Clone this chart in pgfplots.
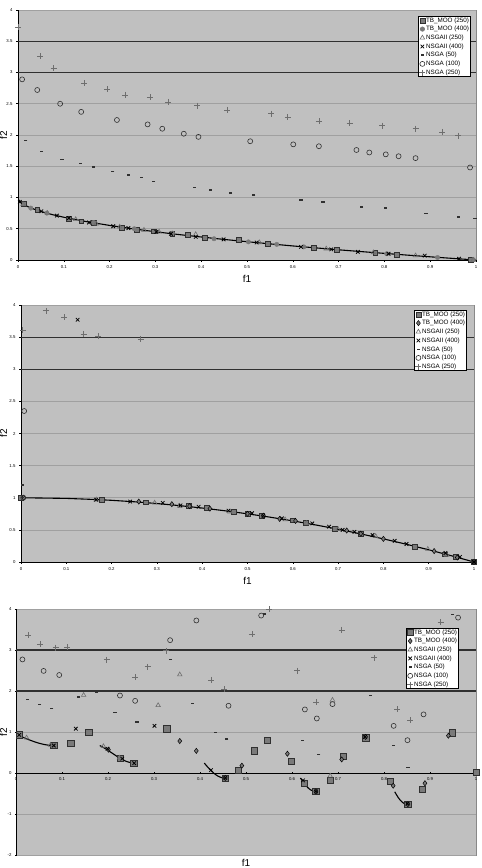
\documentclass[border=0pt]{standalone}
\usepackage{pgfplots}
\pgfplotsset{compat=1.18}
\usepackage{fontspec}
\setmainfont{Liberation Sans}
\definecolor{bgc}{HTML}{C0C0C0}
\definecolor{gridc}{HTML}{A0A0A0}
\definecolor{darkl}{HTML}{303030}
\definecolor{framec}{HTML}{888888}
\definecolor{mgray}{HTML}{7A7A7A}
\definecolor{dgray}{HTML}{303030}
\definecolor{pgray}{HTML}{6E6E6E}
\pgfplotsset{
  excel/.style={
    scale only axis, xmin=0, xmax=1,
    /pgf/number format/assume math mode=true,
    tick label style={font=\fontsize{4.3}{5}\selectfont},
    xtick={0,0.1,...,1.0},
    xticklabel style={/pgf/number format/fixed},
    yticklabel style={/pgf/number format/fixed},
    axis background/.style={fill=bgc, draw=framec, line width=0.6pt},
    axis line style={-, black, line width=0.6pt},
    every non boxed x axis/.append style={x axis line style={-}},
    every non boxed y axis/.append style={y axis line style={-}},
    tick align=outside, major tick length=2pt, tick style={black, line width=0.5pt},
    ymajorgrids, major grid style={draw=gridc, line width=0.5pt},
    xlabel={f1}, ylabel={f2},
    label style={font=\fontsize{4.5}{5}\selectfont},
    legend cell align=left,
    legend image code/.code={\draw[#1] plot coordinates {(2pt,0pt)};},
    legend style={draw=black, fill=white, line width=0.6pt, font=\fontsize{6.3}{7}\selectfont,
      inner xsep=1pt, inner ysep=0.5pt, row sep=1.5pt,
      nodes={inner sep=0.6pt, text height=4.8pt, text depth=1.2pt}},
  },
  sA/.style={only marks, mark=square*, mark size=2.4pt, mark options={fill=mgray, draw=dgray, line width=0.5pt}},
  sB/.style={only marks, mark=*, mark size=2.2pt, mark options={fill=mgray, draw=mgray}},
  sBd/.style={only marks, mark=diamond*, mark size=2.6pt, mark options={fill=mgray, draw=black, line width=0.5pt}},
  sC/.style={only marks, mark=triangle, mark size=2.6pt, mark options={draw=pgray, line width=0.6pt}},
  sD/.style={only marks, mark=x, mark size=2.5pt, mark options={draw=black, line width=0.8pt}},
  sE/.style={only marks, mark=-, mark size=1.6pt, mark options={draw=dgray, line width=1.4pt}},
  sF/.style={only marks, mark=o, mark size=2.5pt, mark options={draw=dgray, line width=0.6pt}},
  sG/.style={only marks, mark=+, mark size=3pt, mark options={draw=pgray, line width=0.7pt}},
  front/.style={black, line width=1.1pt, forget plot, mark=none},
}
\begin{document}
\begin{tikzpicture}
\path[use as bounding box] (0,0) rectangle (482pt,868pt);
% ---------------- Plot 1 ----------------
\begin{axis}[excel,
  at={(18pt,608pt)}, anchor=south west, width=458pt, height=250pt,
  ymin=0, ymax=4, ytick={0,0.5,...,4},
  axis x line*=bottom, axis y line*=left,
  extra y ticks={3,3.5}, extra y tick labels={},
  extra y tick style={grid=major, major grid style={draw=darkl, line width=1.2pt}, major tick length=0pt},
  every axis x label/.style={at={(rel axis cs:0.5,0)}, anchor=center, yshift=-19pt},
  every axis y label/.style={at={(rel axis cs:0,0.5)}, rotate=90, anchor=center, yshift=14.5pt},
  legend style={at={(0.989,0.976)}, anchor=north east},
]
\addplot[sA] coordinates {(0.012,0.90)(0.042,0.80)(0.111,0.66)(0.138,0.62)(0.165,0.59)(0.227,0.52)(0.259,0.49)(0.296,0.46)(0.337,0.42)(0.371,0.40)(0.407,0.36)(0.482,0.32)(0.545,0.26)(0.646,0.20)(0.696,0.17)(0.780,0.12)(0.827,0.09)(0.988,0.01)};
\addlegendentry{TB\_MOO (250)}
\addplot[sB] coordinates {(0.028,0.83)(0.063,0.75)(0.165,0.60)(0.254,0.50)(0.337,0.43)(0.428,0.34)(0.503,0.29)(0.565,0.25)(0.624,0.21)(0.805,0.10)(0.916,0.04)(0.994,0.005)};
\addlegendentry{TB\_MOO (400)}
\addplot[sC] coordinates {(0.011,0.89)(0.064,0.75)(0.126,0.65)(0.171,0.58)(0.222,0.53)(0.275,0.48)(0.308,0.45)(0.388,0.41)(0.527,0.28)(0.673,0.18)(0.776,0.12)(0.868,0.07)(0.994,0.0)};
\addlegendentry{NSGAII (250)}
\addplot[sD] coordinates {(0.004,0.93)(0.051,0.78)(0.085,0.71)(0.111,0.67)(0.155,0.60)(0.208,0.54)(0.241,0.51)(0.302,0.45)(0.334,0.42)(0.388,0.37)(0.449,0.33)(0.521,0.28)(0.618,0.21)(0.684,0.17)(0.742,0.13)(0.809,0.10)(0.888,0.07)(0.963,0.02)};
\addlegendentry{NSGAII (400)}
\addplot[sE] coordinates {(0.017,1.91)(0.051,1.74)(0.096,1.61)(0.136,1.54)(0.165,1.49)(0.207,1.42)(0.241,1.36)(0.269,1.32)(0.296,1.26)(0.385,1.16)(0.420,1.12)(0.464,1.07)(0.515,1.04)(0.618,0.96)(0.666,0.93)(0.750,0.85)(0.802,0.83)(0.891,0.74)(0.961,0.69)(0.998,0.66)};
\addlegendentry{NSGA (50)}
\addplot[sF] coordinates {(0.009,2.89)(0.042,2.72)(0.092,2.50)(0.138,2.37)(0.216,2.24)(0.283,2.17)(0.315,2.10)(0.362,2.02)(0.394,1.97)(0.507,1.90)(0.601,1.85)(0.657,1.82)(0.739,1.76)(0.767,1.72)(0.803,1.69)(0.831,1.66)(0.868,1.63)(0.987,1.48)};
\addlegendentry{NSGA (100)}
\addplot[sG] coordinates {(0.0,3.73)(0.049,3.26)(0.078,3.07)(0.145,2.83)(0.195,2.73)(0.234,2.64)(0.288,2.60)(0.328,2.53)(0.391,2.47)(0.457,2.40)(0.553,2.34)(0.589,2.28)(0.657,2.22)(0.724,2.19)(0.795,2.15)(0.868,2.10)(0.926,2.05)(0.961,1.99)};
\addlegendentry{NSGA (250)}
\addplot[front] coordinates {(0.001,0.968)(0.005,0.929)(0.01,0.9)(0.02,0.859)(0.03,0.827)(0.05,0.776)(0.075,0.726)(0.1,0.684)(0.15,0.613)(0.2,0.553)(0.25,0.5)(0.3,0.452)(0.35,0.408)(0.4,0.368)(0.45,0.329)(0.5,0.293)(0.55,0.258)(0.6,0.225)(0.65,0.194)(0.7,0.163)(0.75,0.134)(0.8,0.106)(0.85,0.078)(0.9,0.051)(0.95,0.025)(1,0)};
\end{axis}
% ---------------- Plot 2 ----------------
\begin{axis}[excel,
  at={(21pt,306pt)}, anchor=south west, width=453pt, height=257pt,
  ymin=0, ymax=4, ytick={0,0.5,...,4},
  axis x line*=bottom, axis y line*=left,
  extra y ticks={3,3.5}, extra y tick labels={},
  extra y tick style={grid=major, major grid style={draw=darkl, line width=1.2pt}, major tick length=0pt},
  every axis x label/.style={at={(rel axis cs:0.5,0)}, anchor=center, yshift=-19pt},
  every axis y label/.style={at={(rel axis cs:0,0.5)}, rotate=90, anchor=center, yshift=17.5pt},
  legend style={at={(0.9845,0.9805)}, anchor=north east},
]
\addplot[sA] coordinates {(0.0,1.0)(0.179,0.97)(0.275,0.93)(0.371,0.87)(0.41,0.84)(0.470,0.78)(0.5,0.75)(0.532,0.72)(0.6,0.65)(0.628,0.61)(0.693,0.52)(0.75,0.44)(0.87,0.24)(0.935,0.12)(0.96,0.08)(1.0,0.0)};
\addlegendentry{TB\_MOO (250)}
\addplot[sBd] coordinates {(0.006,1.0)(0.26,0.94)(0.333,0.90)(0.372,0.87)(0.417,0.83)(0.5,0.75)(0.535,0.72)(0.571,0.67)(0.606,0.64)(0.719,0.49)(0.75,0.44)(0.8,0.36)(0.912,0.17)(0.963,0.07)(1.0,0.0)};
\addlegendentry{TB\_MOO (400)}
\addplot[sC] coordinates {(0.166,0.97)(0.295,0.92)(0.35,0.87)(0.461,0.78)(0.583,0.66)(0.63,0.60)(0.70,0.51)(0.783,0.40)(0.898,0.20)(0.94,0.11)};
\addlegendentry{NSGAII (250)}
\addplot[sD] coordinates {(0.125,3.77)(0.166,0.97)(0.241,0.94)(0.313,0.92)(0.352,0.88)(0.392,0.86)(0.458,0.80)(0.51,0.76)(0.535,0.72)(0.576,0.68)(0.643,0.60)(0.68,0.55)(0.71,0.50)(0.736,0.47)(0.776,0.42)(0.825,0.33)(0.851,0.28)(0.937,0.14)(0.969,0.08)(1.0,0.0)};
\addlegendentry{NSGAII (400)}
\addplot[sE] coordinates {(0.003,1.2)(0.003,1.0)};
\addlegendentry{NSGA (50)}
\addplot[sF] coordinates {(0.007,2.35)(0.005,1.0)};
\addlegendentry{NSGA (100)}
\addplot[sG] coordinates {(0.004,3.61)(0.055,3.91)(0.096,3.81)(0.138,3.55)(0.171,3.51)(0.264,3.47)};
\addlegendentry{NSGA (250)}
\addplot[front] coordinates {(0,1)(0.1,0.99)(0.17,0.971)(0.2,0.96)(0.25,0.9375)(0.3,0.91)(0.35,0.8775)(0.4,0.84)(0.45,0.7975)(0.5,0.75)(0.55,0.6975)(0.6,0.64)(0.65,0.5775)(0.7,0.51)(0.75,0.4375)(0.8,0.36)(0.85,0.2775)(0.9,0.19)(0.95,0.0975)(1,0)};
\end{axis}
% ---------------- Plot 3 ----------------
\begin{axis}[excel,
  at={(16pt,13pt)}, anchor=south west, width=460pt, height=246pt,
  ymin=-2, ymax=4, ytick={-2,-1,...,4},
  axis x line=middle, axis y line=left,
  hide obscured x ticks=false, hide obscured y ticks=false,
  extra y ticks={2,3}, extra y tick labels={},
  extra y tick style={grid=major, major grid style={draw=darkl, line width=1.2pt}, major tick length=0pt},
  every axis x label/.style={at={(rel axis cs:0.5,0)}, anchor=center, yshift=-8pt},
  every axis y label/.style={at={(rel axis cs:0,0.5)}, rotate=90, anchor=center, yshift=12.5pt},
  legend style={at={(0.963,0.923)}, anchor=north east},
]
\addplot[sA, mark size=3.2pt] coordinates {(0.007,0.93)(0.082,0.67)(0.119,0.72)(0.158,1.00)(0.226,0.36)(0.256,0.24)(0.328,1.08)(0.455,-0.13)(0.483,0.07)(0.518,0.54)(0.546,0.80)(0.598,0.29)(0.626,-0.25)(0.652,-0.45)(0.683,-0.17)(0.712,0.41)(0.760,0.86)(0.813,-0.20)(0.852,-0.76)(0.883,-0.39)(0.949,0.98)(1.0,0.02)};
\addlegendentry{TB\_MOO (250)}
\addplot[sBd] coordinates {(0.201,0.57)(0.356,0.78)(0.392,0.54)(0.491,0.18)(0.590,0.47)(0.708,0.33)(0.760,0.88)(0.820,-0.31)(0.889,-0.25)(0.940,0.91)(0.652,-0.45)(0.455,-0.12)(0.852,-0.76)};
\addlegendentry{TB\_MOO (400)}
\addplot[sC] coordinates {(0.023,0.86)(0.075,0.68)(0.19,0.65)(0.225,0.37)(0.147,1.90)(0.309,1.65)(0.356,2.40)(0.688,1.78)(0.683,-0.07)};
\addlegendentry{NSGAII (250)}
\addplot[sD] coordinates {(0.007,0.93)(0.082,0.67)(0.130,1.08)(0.199,0.59)(0.231,0.35)(0.257,0.24)(0.301,1.15)(0.424,0.07)(0.455,-0.12)(0.624,-0.18)(0.652,-0.45)(0.759,0.88)(0.851,-0.75)};
\addlegendentry{NSGAII (400)}
\addplot[sE] coordinates {(0.025,1.79)(0.051,1.67)(0.078,1.58)(0.136,1.85)(0.175,1.98)(0.215,1.47)(0.263,1.24)(0.336,2.77)(0.383,1.69)(0.433,0.99)(0.458,0.83)(0.540,3.88)(0.622,0.80)(0.658,0.45)(0.770,1.89)(0.820,0.67)(0.852,0.13)(0.949,3.87)};
\addlegendentry{NSGA (50)}
\addplot[sF] coordinates {(0.014,2.77)(0.060,2.49)(0.094,2.39)(0.226,1.89)(0.259,1.76)(0.335,3.24)(0.392,3.72)(0.462,1.64)(0.533,3.84)(0.628,1.55)(0.654,1.33)(0.688,1.68)(0.821,1.15)(0.851,0.80)(0.886,1.43)(0.961,3.79)};
\addlegendentry{NSGA (100)}
\addplot[sG] coordinates {(0.027,3.36)(0.053,3.14)(0.086,3.06)(0.111,3.07)(0.197,2.76)(0.259,2.34)(0.286,2.59)(0.327,2.98)(0.424,2.27)(0.453,2.04)(0.513,3.39)(0.551,4.0)(0.611,2.50)(0.653,1.72)(0.708,3.49)(0.779,2.81)(0.829,1.56)(0.857,1.29)(0.923,3.68)};
\addlegendentry{NSGA (250)}
\addplot[front] coordinates {(0.002,0.955)(0.01,0.897)(0.02,0.847)(0.03,0.803)(0.04,0.762)(0.05,0.726)(0.06,0.698)(0.07,0.679)(0.083,0.670)};
\addplot[front] coordinates {(0.1822,0.670)(0.19,0.623)(0.2,0.553)(0.21,0.477)(0.22,0.402)(0.23,0.334)(0.24,0.282)(0.25,0.25)(0.2577,0.242)};
\addplot[front] coordinates {(0.4093,0.2425)(0.415,0.167)(0.42,0.105)(0.425,0.048)(0.43,-0.004)(0.435,-0.047)(0.44,-0.082)(0.447,-0.114)(0.4538,-0.124)};
\addplot[front] coordinates {(0.6183,-0.1225)(0.625,-0.2325)(0.63,-0.303)(0.635,-0.363)(0.64,-0.409)(0.646,-0.4445)(0.6525,-0.458)};
\addplot[front] coordinates {(0.8233,-0.458)(0.83,-0.583)(0.835,-0.658)(0.84,-0.715)(0.846,-0.759)(0.8518,-0.773)};
\end{axis}
\end{tikzpicture}
\end{document}
